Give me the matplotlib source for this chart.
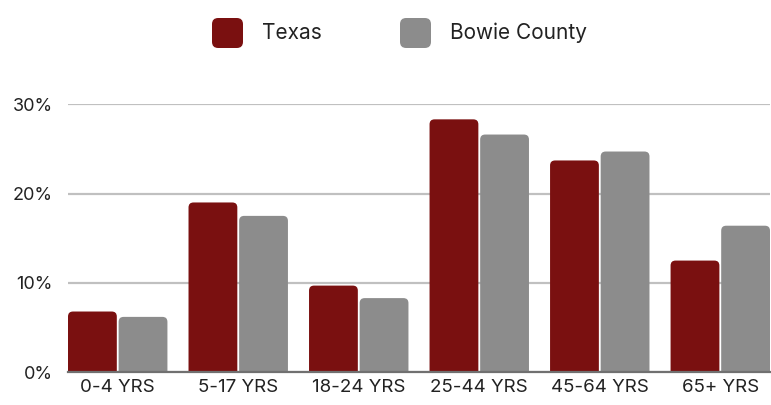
import matplotlib
matplotlib.use("Agg")
import matplotlib.pyplot as plt
from matplotlib.patches import FancyBboxPatch
import numpy as np

# Data (percent of population)
categories = ["0-4 YRS", "5-17 YRS", "18-24 YRS", "25-44 YRS", "45-64 YRS", "65+ YRS"]
texas = [6.8, 19.0, 9.7, 28.3, 23.7, 12.5]
bowie = [6.2, 17.5, 8.3, 26.6, 24.7, 16.4]
series_names = ["Texas", "Bowie County"]
yticks = [0, 10, 20, 30]

texas_color = "#7a1010"
bowie_color = "#8c8c8c"

plt.rcParams["font.family"] = ["Inter", "DejaVu Sans"]

fig = plt.figure(figsize=(7.71, 4.05), dpi=100)
ax = fig.add_axes([68 / 771, 32.7 / 405, 702 / 771, 268.6 / 405])

width = 0.405
offset = 0.21
x = np.arange(len(categories))
ymax = 30.05
ax.set_xlim(-offset - width / 2, len(categories) - 1 + offset + width / 2)
ax.set_ylim(0, ymax)

# pixels per data unit, to keep the corner rounding circular
ax_w_px = 702
ax_h_px = 268.6
px_x = ax_w_px / (ax.get_xlim()[1] - ax.get_xlim()[0])
px_y = ax_h_px / ymax
radius = 5 / px_x  # rounding in x data units


def rounded_bar(xc, h, color):
    p = FancyBboxPatch((xc - width / 2, -2), width, h + 2,
                       boxstyle=f"round,pad=0,rounding_size={radius}",
                       mutation_aspect=px_x / px_y,
                       facecolor=color, edgecolor="none", zorder=3)
    ax.add_patch(p)


for i in range(len(categories)):
    rounded_bar(x[i] - offset, texas[i], texas_color)
    rounded_bar(x[i] + offset, bowie[i], bowie_color)

for s in ax.spines.values():
    s.set_visible(False)

ax.set_yticks(yticks)
ax.set_yticklabels([f"{v}%" for v in yticks])
ax.yaxis.grid(True, color="#c0c0c0", linewidth=1.6, zorder=0)
ax.axhline(0, color="#707070", linewidth=1.6, zorder=4, clip_on=False)
ax.set_xticks(x)
ax.set_xticklabels(categories)
ax.tick_params(axis="x", length=0, labelsize=13.5, labelcolor="#222222", pad=5)
ax.tick_params(axis="y", length=0, labelsize=13, labelcolor="#222222", pad=11)

# legend drawn by hand with rounded swatches
legend_items = [(series_names[0], texas_color, 212, 262),
                (series_names[1], bowie_color, 400, 450)]
for name, color, sx, tx in legend_items:
    sw = FancyBboxPatch((sx / 771, 1 - 48 / 405), 31 / 771, 30 / 405,
                        boxstyle="round,pad=0,rounding_size=0.008",
                        mutation_aspect=771 / 405,
                        transform=fig.transFigure, facecolor=color,
                        edgecolor="none")
    fig.patches.append(sw)
    fig.text(tx / 771, 1 - 33 / 405, name, fontsize=15, color="#222222",
             va="center", ha="left")

fig.savefig("out.png", dpi=100)
